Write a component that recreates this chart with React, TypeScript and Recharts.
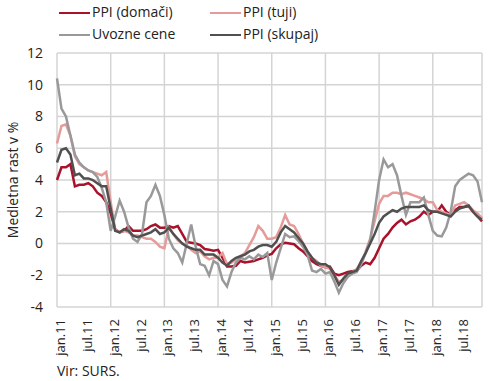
import React from "react";
import { LineChart, Line, XAxis, YAxis, CartesianGrid, ReferenceLine } from "recharts";

const monthNames = ["jan", "feb", "mar", "apr", "maj", "jun", "jul", "avg", "sep", "okt", "nov", "dec"];
const years = ["11", "12", "13", "14", "15", "16", "17", "18"];
const categories = years.flatMap((y) => monthNames.map((m) => `${m}.${y}`));
// vertical grid: each January plus the last month (right frame)
const gridCategories = [...years.map((y) => `jan.${y}`), categories[categories.length - 1]];
const yTicks = [-4, -2, 0, 2, 4, 6, 8, 10, 12];

// PPI (domači)
const domaci = [
  4.0, 4.8, 4.8, 5.0, 3.6, 3.7, 3.7, 3.8, 3.6, 3.2, 3.0, 2.6,
  1.9, 0.9, 0.7, 0.8, 1.1, 0.8, 0.8, 0.8, 0.9, 1.1, 1.2, 1.0,
  1.0, 1.1, 1.0, 1.1, 0.6, 0.1, 0.05, 0.0, -0.1, -0.35, -0.4, -0.45,
  -0.4, -0.9, -1.45, -1.45, -1.4, -1.1, -1.2, -1.15, -1.1, -1.0, -0.9, -0.75,
  -0.65, -0.3, -0.05, 0.05, 0.0, -0.05, -0.3, -0.5, -0.8, -1.1, -1.3, -1.4,
  -1.5, -1.45, -1.9, -2.0, -1.9, -1.8, -1.75, -1.7, -1.4, -1.2, -1.3, -0.9,
  -0.3, 0.3, 0.6, 1.0, 1.3, 1.5, 1.2, 1.4, 1.5, 1.7, 2.0, 1.8,
  2.0, 2.0, 2.4, 2.0, 1.8, 2.1, 2.3, 2.3, 2.35, 2.0, 1.7, 1.4,
];

// PPI (tuji)
const tuji = [
  6.3, 7.4, 7.5, 6.8, 5.5, 5.0, 4.8, 4.6, 4.5, 4.4, 4.3, 4.5,
  2.6, 0.9, 0.7, 0.8, 0.7, 0.5, 0.5, 0.4, 0.3, 0.3, 0.1, -0.2,
  -0.3, 1.0, 0.6, 0.2, 0.0, -0.1, -0.4, -0.6, -0.5, -0.8, -1.0, -0.9,
  -0.9, -0.6, -1.3, -1.2, -1.0, -0.8, -0.6, -0.1, 0.4, 1.1, 0.8, 0.3,
  0.3, 0.4, 1.0, 1.8, 1.2, 1.1, 0.6, 0.0, -0.5, -0.9, -1.1, -1.4,
  -1.5, -1.6, -2.0, -2.4, -2.3, -2.1, -1.8, -1.6, -1.2, -0.5, 0.3, 1.4,
  2.5, 3.0, 3.0, 3.2, 3.2, 3.1, 3.2, 3.1, 3.0, 2.9, 2.8, 2.6,
  2.6, 2.1, 2.0, 1.9, 1.8, 2.4, 2.5, 2.6, 2.4, 2.1, 1.9, 1.6,
];

// Uvozne cene
const uvozne = [
  10.4, 8.5, 8.0, 6.8, 5.6, 5.1, 4.8, 4.6, 4.5, 4.2, 3.5, 2.6,
  0.8, 1.7, 2.7, 2.0, 1.0, 0.3, 0.1, 0.6, 2.6, 3.0, 3.7, 3.0,
  1.8, 0.3, -0.3, -0.6, -1.2, 0.0, 1.2, -0.2, -1.3, -1.4, -2.0, -1.1,
  -1.3, -2.3, -2.7, -1.8, -1.2, -0.9, -1.0, -0.8, -1.0, -0.7, -0.85, -0.6,
  -2.3, -1.2, -0.3, 0.6, 0.4, 0.45, 0.15, -0.2, -0.7, -1.7, -1.8, -1.6,
  -1.9, -1.8, -2.4, -3.1, -2.5, -2.1, -1.9, -1.8, -1.3, -0.6, 0.2, 2.0,
  4.0, 5.3, 4.8, 5.0, 4.3, 3.0, 1.8, 2.6, 2.6, 2.6, 2.9, 1.8,
  0.8, 0.5, 0.45, 1.0, 2.0, 3.6, 4.0, 4.2, 4.4, 4.3, 3.9, 2.6,
];

// PPI (skupaj)
const skupaj = [
  5.1, 5.9, 6.0, 5.6, 4.3, 4.4, 4.1, 4.1, 4.0, 3.8, 3.6, 3.6,
  2.2, 0.8, 0.7, 0.9, 0.8, 0.5, 0.4, 0.5, 0.6, 0.7, 0.9, 0.6,
  0.7, 1.0, 0.6, 0.3, 0.0, -0.2, -0.3, -0.4, -0.4, -0.7, -0.7, -0.7,
  -0.9, -1.2, -1.4, -1.1, -0.9, -0.8, -0.7, -0.5, -0.4, -0.2, -0.1, -0.1,
  -0.2, 0.1, 0.7, 1.1, 0.9, 0.7, 0.35, 0.0, -0.5, -0.9, -1.2, -1.3,
  -1.3, -1.5, -2.0, -2.6, -2.2, -1.9, -1.8, -1.7, -1.1, -0.6, 0.0, 0.6,
  1.3, 1.7, 1.9, 2.1, 2.0, 2.2, 2.3, 2.3, 2.3, 2.3, 2.4, 2.1,
  2.0, 2.0, 1.9, 1.8, 1.7, 2.0, 2.2, 2.3, 2.4, 2.0, 1.7, 1.5,
];

const data = categories.map((cat, i) => ({
  cat,
  domaci: domaci[i],
  tuji: tuji[i],
  uvozne: uvozne[i],
  skupaj: skupaj[i],
}));

const FONT = "'Open Sans', sans-serif";
const TEXT = "#222";
const GRID = "#d4d4d4";

const legendItems = [
  { label: "PPI (domači)", color: "#a8132b", left: 59, top: 2 },
  { label: "PPI (tuji)", color: "#e59b99", left: 210, top: 2 },
  { label: "Uvozne cene", color: "#999999", left: 59, top: 24 },
  { label: "PPI (skupaj)", color: "#505050", left: 210, top: 24 },
];

const XTick = (props: any) => {
  const { x, y, payload } = props;
  return (
    <text
      transform={`translate(${x + 3},${y + 12}) rotate(-90)`}
      textAnchor="end"
      dominantBaseline="central"
      fontSize={13}
      fontFamily={FONT}
      fill={TEXT}
    >
      {payload.value}
    </text>
  );
};

export default function App() {
  return (
    <div
      style={{
        position: "absolute",
        left: 0,
        top: 0,
        width: 490,
        height: 381,
        background: "#fff",
        fontFamily: FONT,
        color: TEXT,
      }}
    >
      <LineChart
        width={490}
        height={381}
        data={data}
        margin={{ top: 53, right: 8, bottom: 0, left: 0 }}
      >
        <CartesianGrid vertical={false} stroke={GRID} strokeWidth={1.3} />
        <ReferenceLine x={gridCategories[0]} stroke={GRID} strokeWidth={1.5} />
        <ReferenceLine x={gridCategories[1]} stroke={GRID} strokeWidth={1.5} />
        <ReferenceLine x={gridCategories[2]} stroke={GRID} strokeWidth={1.5} />
        <ReferenceLine x={gridCategories[3]} stroke={GRID} strokeWidth={1.5} />
        <ReferenceLine x={gridCategories[4]} stroke={GRID} strokeWidth={1.5} />
        <ReferenceLine x={gridCategories[5]} stroke={GRID} strokeWidth={1.5} />
        <ReferenceLine x={gridCategories[6]} stroke={GRID} strokeWidth={1.5} />
        <ReferenceLine x={gridCategories[7]} stroke={GRID} strokeWidth={1.5} />
        <ReferenceLine x={gridCategories[8]} stroke={GRID} strokeWidth={1.5} />
        <XAxis
          dataKey="cat"
          interval={5}
          axisLine={false}
          tickLine={false}
          tickSize={0}
          tickMargin={0}
          height={74}
          tick={<XTick />}
        />
        <YAxis
          type="number"
          domain={[-4, 12]}
          ticks={yTicks}
          width={57}
          axisLine={false}
          tickLine={false}
          tickSize={0}
          tickMargin={14}
          tick={{ fontSize: 14, fill: TEXT, fontFamily: FONT }}
          label={{
            value: "Medletna rast v %",
            angle: -90,
            position: "center",
            dx: -15,
            style: { fontSize: 14, fill: TEXT, fontFamily: FONT },
          }}
        />
        <Line dataKey="domaci" stroke="#a8132b" strokeWidth={2.5} dot={false} isAnimationActive={false} />
        <Line dataKey="tuji" stroke="#e59b99" strokeWidth={2.5} dot={false} isAnimationActive={false} />
        <Line dataKey="uvozne" stroke="#999999" strokeWidth={2.5} dot={false} isAnimationActive={false} />
        <Line dataKey="skupaj" stroke="#505050" strokeWidth={2.5} dot={false} isAnimationActive={false} />
      </LineChart>
      {legendItems.map((it) => (
        <div key={it.label}>
          <div
            style={{
              position: "absolute",
              left: it.left,
              top: it.top + 9.5,
              width: 31,
              height: 2.5,
              background: it.color,
            }}
          />
          <div
            style={{
              position: "absolute",
              left: it.left + 33,
              top: it.top,
              height: 20,
              lineHeight: "20px",
              fontSize: 14,
              whiteSpace: "nowrap",
            }}
          >
            {it.label}
          </div>
        </div>
      ))}
      <div
        style={{
          position: "absolute",
          left: 57,
          top: 364,
          fontSize: 14,
          lineHeight: "14px",
          whiteSpace: "nowrap",
        }}
      >
        Vir: SURS.
      </div>
    </div>
  );
}
